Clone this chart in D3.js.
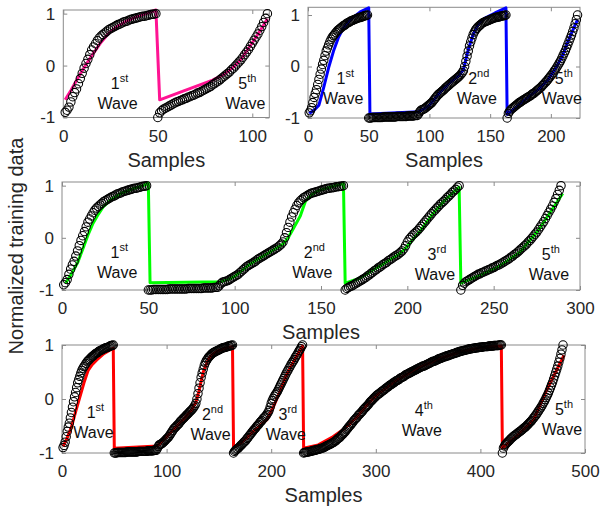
<!DOCTYPE html>
<html><head><meta charset="utf-8">
<script src="https://cdn.jsdelivr.net/npm/d3@7"></script>
<style>
html,body{margin:0;padding:0;background:#fff;}
svg{display:block;font-family:"Liberation Sans",Arial,sans-serif;}
</style></head><body>
<svg id="chart" width="601" height="510"></svg>
<script>
// ---- training data (normalized), one value per sample, per wave ----
const wave1 = [-0.90,-0.86,-0.80,-0.70,-0.60,-0.52,-0.45,-0.35,-0.25,-0.15,
  -0.05,0.04,0.12,0.21,0.30,0.36,0.42,0.48,0.53,0.57,
  0.60,0.63,0.66,0.69,0.71,0.73,0.75,0.77,0.79,0.80,
  0.82,0.84,0.85,0.86,0.88,0.89,0.90,0.91,0.92,0.93,
  0.94,0.95,0.95,0.96,0.97,0.98,0.99,0.99,1.00];
const wave2 = [-1.00,-1.00,-1.00,-0.99,-0.99,-0.99,-0.99,-0.99,-0.99,-0.99,
  -0.99,-0.99,-0.98,-0.98,-0.98,-0.98,-0.98,-0.98,-0.98,-0.98,
  -0.98,-0.98,-0.98,-0.97,-0.97,-0.97,-0.97,-0.97,-0.97,-0.97,
  -0.97,-0.97,-0.96,-0.96,-0.96,-0.96,-0.96,-0.96,-0.95,-0.95,
  -0.95,
  -0.92,-0.88,-0.85,-0.84,-0.83,-0.82,-0.80,-0.78,-0.76,
  -0.74,-0.72,-0.70,-0.67,-0.64,-0.61,-0.58,-0.55,-0.53,-0.51,
  -0.49,-0.47,-0.45,-0.42,-0.40,-0.38,-0.36,-0.34,-0.32,-0.30,
  -0.28,-0.26,-0.24,-0.22,-0.20,-0.18,-0.15,-0.12,-0.08,0.00,
  0.10,0.20,0.30,0.40,0.48,0.55,0.62,0.67,0.71,0.74,
  0.77,0.79,0.81,0.83,0.85,0.86,0.87,0.88,0.89,0.90,
  0.91,0.92,0.93,0.94,0.95,0.95,0.96,0.96,0.97,0.98,
  0.98,0.99,0.99,1.00];
const wave3 = [-1.00,-0.97,-0.95,-0.93,-0.92,-0.90,-0.88,-0.86,-0.84,-0.82,
  -0.80,-0.78,-0.76,-0.73,-0.71,-0.68,-0.66,-0.63,-0.61,-0.58,
  -0.56,-0.54,-0.51,-0.49,-0.47,-0.44,-0.42,-0.40,-0.37,-0.35,
  -0.33,-0.31,-0.28,-0.25,-0.21,-0.15,-0.08,-0.03,0.01,0.05,
  0.08,0.11,0.14,0.18,0.22,0.26,0.30,0.34,0.38,0.42,
  0.46,0.50,0.53,0.57,0.60,0.64,0.67,0.70,0.73,0.77,
  0.80,0.83,0.87,0.90,0.93,0.97,1.00];
const wave4 = [-1.00,-0.99,-0.99,-0.98,-0.98,-0.98,-0.97,-0.97,-0.96,-0.96,
  -0.95,-0.95,-0.94,-0.94,-0.93,-0.93,-0.92,-0.91,-0.91,-0.90,
  -0.89,-0.88,-0.87,-0.86,-0.85,-0.84,-0.83,-0.82,-0.81,-0.80,
  -0.78,-0.77,-0.75,-0.73,-0.72,-0.70,-0.68,-0.66,-0.64,-0.62,
  -0.60,-0.57,-0.55,-0.52,-0.50,-0.48,-0.45,-0.43,-0.40,-0.38,
  -0.36,-0.34,-0.31,-0.29,-0.27,-0.25,-0.23,-0.20,-0.18,-0.16,
  -0.14,-0.12,-0.10,-0.07,-0.05,-0.03,-0.01,0.01,0.03,0.05,
  0.07,0.08,0.10,0.11,0.13,0.14,0.16,0.17,0.19,0.20,
  0.22,0.23,0.25,0.26,0.27,0.29,0.30,0.31,0.33,0.34,
  0.35,0.36,0.38,0.39,0.40,0.41,0.42,0.44,0.45,0.46,
  0.47,0.48,0.49,0.50,0.51,0.52,0.53,0.54,0.55,0.56,
  0.57,0.58,0.59,0.60,0.61,0.61,0.62,0.63,0.64,0.65,
  0.66,0.67,0.68,0.69,0.70,0.70,0.71,0.72,0.73,0.74,
  0.75,0.75,0.76,0.77,0.78,0.78,0.79,0.80,0.80,0.81,
  0.82,0.82,0.83,0.84,0.84,0.85,0.86,0.86,0.87,0.88,
  0.88,0.89,0.89,0.90,0.90,0.91,0.91,0.92,0.92,0.93,
  0.93,0.93,0.94,0.94,0.94,0.95,0.95,0.95,0.96,0.96,
  0.96,0.96,0.97,0.97,0.97,0.97,0.97,0.98,0.98,0.98,
  0.98,0.98,0.99,0.99,0.99,0.99,0.99,1.00,1.00,1.00];
const wave5 = [-1.00,-0.91,-0.87,-0.84,-0.82,-0.80,-0.78,-0.76,-0.74,-0.72,
  -0.70,-0.69,-0.67,-0.66,-0.64,-0.63,-0.61,-0.60,-0.58,-0.57,
  -0.55,-0.53,-0.52,-0.50,-0.48,-0.46,-0.44,-0.42,-0.40,-0.37,
  -0.35,-0.32,-0.30,-0.27,-0.24,-0.21,-0.18,-0.15,-0.12,-0.08,
  -0.05,-0.01,0.03,0.07,0.11,0.16,0.21,0.26,0.31,0.37,
  0.43,0.49,0.55,0.61,0.68,0.75,0.83,0.91,1.00];

// which waves are concatenated in each panel
const panel1Waves = ["wave1","wave5"];
const panel2Waves = ["wave1","wave2","wave5"];
const panel3Waves = ["wave1","wave2","wave3","wave5"];
const panel4Waves = ["wave1","wave2","wave3","wave4","wave5"];

// predicted output of each network: [sample, value] vertices
const panel1Pred = [[1,-0.66],[4,-0.48],[8,-0.22],[12,0.02],[16,0.24],[20,0.45],[24,0.62],[28,0.74],[33,0.85],[38,0.93],[43,0.99],[49,1.07],
  [51,-0.66],[79,-0.28],[85,-0.17],[90,-0.03],[94,0.12],[98,0.33],[102,0.55],[105,0.72],[108,0.9]];
const panel2Pred = [[1,-0.91],[5,-0.85],[9,-0.75],[13,-0.4],[17,-0.02],[21,0.3],[25,0.56],[29,0.74],[33,0.86],[37,0.95],[43,1.06],[50,1.14],
  [51,-0.92],[91,-0.88],[95,-0.83],[100,-0.75],[108,-0.52],[116,-0.33],[125,-0.16],[128,-0.06],[132,0.33],[136,0.62],[140,0.82],[145,0.93],[154,1.04],[163,1.14],
  [164,-0.93],[170,-0.82],[181,-0.6],[190,-0.44],[198,-0.25],[204,-0.03],[209,0.18],[213,0.42],[217,0.65],[222,0.91]];
const panel3Pred = [[2,-0.87],[5,-0.72],[9,-0.48],[12,-0.22],[15,0.05],[18,0.28],[21,0.45],[24,0.6],[28,0.72],[34,0.85],[41,0.94],[47,1.0],[50,1.05],
  [51,-0.86],[92,-0.84],[96,-0.8],[100,-0.74],[109,-0.5],[116,-0.36],[125,-0.18],[128,-0.12],[131,0.0],[134,0.18],[138,0.42],[141,0.7],[145,0.84],[149,0.91],[156,0.98],[163,1.04],
  [164,-0.87],[172,-0.78],[184,-0.54],[195,-0.32],[199,-0.2],[202,-0.08],[208,0.15],[215,0.47],[222,0.73],[230,0.97],
  [231,-0.87],[242,-0.72],[253,-0.55],[265,-0.28],[276,0.15],[283,0.5],[290,0.85]];
const panel4Pred = [[1,-0.88],[5,-0.72],[9,-0.52],[13,-0.24],[17,0.03],[21,0.3],[25,0.53],[29,0.64],[33,0.72],[40,0.84],[46,0.91],[49,0.94],
  [50,-0.91],[91,-0.87],[95,-0.8],[100,-0.7],[108,-0.54],[116,-0.38],[124,-0.2],[128,-0.06],[131,0.15],[135,0.5],[140,0.74],[144,0.83],[150,0.9],[156,0.94],[163,0.97],
  [164,-0.9],[172,-0.8],[184,-0.58],[196,-0.38],[202,-0.15],[208,0.12],[214,0.42],[221,0.68],[230,0.98],
  [231,-0.91],[245,-0.85],[259,-0.7],[270,-0.55],[280,-0.37],[290,-0.15],[300,0.06],[320,0.35],[340,0.57],[360,0.74],[380,0.87],[400,0.95],[420,0.98],
  [421,-0.91],[435,-0.68],[451,-0.38],[463,0.15],[472,0.5],[480,0.81]];

// wave labels: [number, ordinal suffix, sample, value]
const panel1Labels = [["1","st",28.7,-0.84],["5","th",96.3,-0.84]];
const panel2Labels = [["1","st",29,-0.73],["2","nd",139,-0.73],["5","th",209,-0.73]];
const panel3Labels = [["1","st",32,-0.77],["2","nd",145,-0.77],["3","rd",216,-0.8],["5","th",282,-0.8]];
const panel4Labels = [["1","st",30,-0.73],["2","nd",142,-0.76],["3","rd",214,-0.76],["4","th",344,-0.69],["5","th",478,-0.67]];

// axis ticks and limits
const xTicks1 = [0,50,100];
const xTicks2 = [0,50,100,150,200];
const xTicks3 = [0,50,100,150,200,250,300];
const xTicks4 = [0,100,200,300,400,500];
const yTicks = [-1,0,1];
const xMax = [109,224,300,500];
const yMax = [1.07,1.15,1.07,1.0];

const xLabel = "Samples";
const yLabel = "Normalized training data";

// ---- drawing ----
const waves = {wave1, wave2, wave3, wave4, wave5};
const svg = d3.select("#chart");
const boxColor = "#8a8a8a", textColor = "#262626";

const panels = [
  {waves: panel1Waves, pred: panel1Pred, labels: panel1Labels, xt: xTicks1, color: "#ff1493",
   box: {l: 63.3, r: 269.3, t: 10, b: 117.5}},
  {waves: panel2Waves, pred: panel2Pred, labels: panel2Labels, xt: xTicks2, color: "#0000ff",
   box: {l: 308, r: 580, t: 7.3, b: 118}},
  {waves: panel3Waves, pred: panel3Pred, labels: panel3Labels, xt: xTicks3, color: "#00ff00",
   box: {l: 62, r: 580, t: 182, b: 290}},
  {waves: panel4Waves, pred: panel4Pred, labels: panel4Labels, xt: xTicks4, color: "#ff0000",
   box: {l: 62, r: 585, t: 345, b: 453}}
];

panels.forEach((p, i) => {
  const B = p.box;
  const x = d3.scaleLinear().domain([0, xMax[i]]).range([B.l, B.r]);
  const y = d3.scaleLinear().domain([-1, yMax[i]]).range([B.b, B.t]);
  const g = svg.append("g");

  // concatenated training samples
  const pts = [];
  let n = 1;
  p.waves.forEach(w => waves[w].forEach(v => pts.push([n++, v])));

  // axes (ticks inward on all four sides)
  const styleAxis = (sel, showText) => {
    sel.select(".domain").remove();
    sel.selectAll(".tick line").attr("stroke", boxColor);
    sel.selectAll(".tick text").attr("fill", textColor).style("font-size", "17px")
      .style("font-family", "'Liberation Sans', Arial, sans-serif");
    if (!showText) sel.selectAll(".tick text").remove();
  };
  g.append("g").attr("transform", `translate(0,${B.b})`)
    .call(d3.axisBottom(x).tickValues(p.xt).tickSizeInner(-4).tickSizeOuter(0).tickPadding(12))
    .call(s => styleAxis(s, true));
  g.append("g").attr("transform", `translate(0,${B.t})`)
    .call(d3.axisTop(x).tickValues(p.xt).tickSizeInner(-4).tickSizeOuter(0))
    .call(s => styleAxis(s, false));
  g.append("g").attr("transform", `translate(${B.l},0)`)
    .call(d3.axisLeft(y).tickValues(yTicks).tickFormat(d3.format("d")).tickSizeInner(-4).tickSizeOuter(0).tickPadding(8))
    .call(s => styleAxis(s, true));
  g.append("g").attr("transform", `translate(${B.r},0)`)
    .call(d3.axisRight(y).tickValues(yTicks).tickSizeInner(-4).tickSizeOuter(0))
    .call(s => styleAxis(s, false));
  g.selectAll(".tick text").filter(function(){ return this.textContent.indexOf("−") >= 0; })
    .text(function(){ return this.textContent.replace("−", "-"); });

  g.append("rect").attr("x", B.l).attr("y", B.t).attr("width", B.r - B.l).attr("height", B.b - B.t)
    .attr("fill", "none").attr("stroke", boxColor).attr("stroke-width", 1);

  // prediction line
  g.append("path").datum(p.pred)
    .attr("d", d3.line().x(d => x(d[0])).y(d => y(d[1])))
    .attr("fill", "none").attr("stroke", p.color).attr("stroke-width", 3)
    .attr("stroke-linejoin", "round");

  // training samples (open circles)
  g.append("g").selectAll("circle").data(pts).join("circle")
    .attr("cx", d => x(d[0])).attr("cy", d => y(d[1])).attr("r", 4.2)
    .attr("fill", "none").attr("stroke", "#000").attr("stroke-width", 1.05);

  // wave labels
  p.labels.forEach(L => {
    const t = g.append("text").attr("x", x(L[2]) + 2).attr("y", y(L[3]) - 20)
      .attr("text-anchor", "middle").attr("fill", "#111").style("font-size", "16px");
    t.append("tspan").text(L[0]);
    t.append("tspan").text(L[1]).attr("dy", -7).style("font-size", "11px");
    g.append("text").attr("x", x(L[2])).attr("y", y(L[3]))
      .attr("text-anchor", "middle").attr("fill", "#111").style("font-size", "16px").text("Wave");
  });

  // x axis title
  g.append("text").attr("x", (B.l + B.r) / 2).attr("y", B.b + 49)
    .attr("text-anchor", "middle").attr("fill", textColor).style("font-size", "20px").text(xLabel);
});

svg.append("text").attr("transform", "translate(23,246) rotate(-90)")
  .attr("text-anchor", "middle").attr("fill", textColor).style("font-size", "20px").text(yLabel);
</script>
</body></html>
